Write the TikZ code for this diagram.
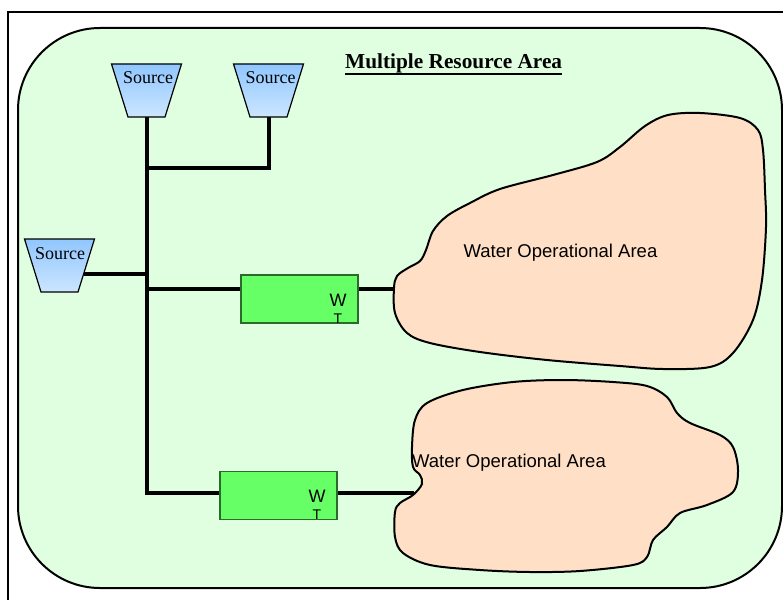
\documentclass[tikz,border=0pt]{standalone}
\usepackage{fontspec}
\setmainfont{Liberation Serif}
\newfontfamily\arialfont{Liberation Sans}
\usetikzlibrary{calc}

\definecolor{areagreen}{HTML}{E0FFE0}
\definecolor{blobfill}{HTML}{FFE0C6}
\definecolor{srctop}{HTML}{90C6FF}
\definecolor{srcbot}{HTML}{CCE6FF}
\definecolor{tankfill}{HTML}{66FF66}
\definecolor{tankedge}{HTML}{2A6A2A}

\pgfdeclarelayer{back}
\pgfdeclarelayer{mid}
\pgfsetlayers{back,mid,main}

\tikzset{
  source/.style={draw=black, line width=1.2, top color=srctop, bottom color=srcbot},
  srclabel/.style={anchor=base, inner sep=0, font=\fontsize{18}{18}\selectfont},
  tank/.style={draw=tankedge, line width=1.2, fill=tankfill, minimum width=117,
    minimum height=48, inner sep=0},
  tanklabel/.style={anchor=base, inner sep=0, font=\arialfont\fontsize{18}{18}\selectfont},
  tanksub/.style={anchor=base, inner sep=0, font=\arialfont\fontsize{14}{14}\selectfont},
  pipe/.style={line width=4, line cap=butt, line join=miter},
  areaname/.style={anchor=base, inner sep=0, font=\arialfont\fontsize{18.5}{18.5}\selectfont},
  blob/.style={draw=black, line width=2, fill=blobfill},
}

% source hopper: top 70 wide, bottom 37 wide, 53 high, centred on #1
\newcommand\drawsource[1]{%
  \path[source] ($(#1)+(-35,-26.5)$) -- ($(#1)+(35,-26.5)$)
    -- ($(#1)+(18.5,26.5)$) -- ($(#1)+(-18.5,26.5)$) -- cycle;}

\begin{document}
\begin{tikzpicture}[x=1pt,y=-1pt]
  \useasboundingbox (0,0) rectangle (783,599);
  \clip (0,0) rectangle (783,599);

  % source centres and outlets
  \coordinate (s1) at (146.5,90.5);
  \coordinate (s2) at (268.5,90.5);
  \coordinate (s3) at (59.5,265.5);
  \coordinate (s1out) at ($(s1)+(0,26.5)$);
  \coordinate (s2out) at ($(s2)+(0,26.5)$);
  \coordinate (s3out) at ($(s3)+(24.3,8.5)$);

  \drawsource{s1}
  \drawsource{s2}
  \drawsource{s3}
  \node[srclabel] (s1t) at (148,84) {Source};
  \node[srclabel] (s2t) at (270.5,84) {Source};
  \node[srclabel] (s3t) at (60,259) {Source};

  % storage tanks
  \node[tank] (b1) at (299.5,299) {};
  \node[tank] (b2) at (278.5,495.5) {};
  \node[tanklabel] (b1w) at (338,306) {W};
  \node[tanksub] (b1s) at (338,323) {T};
  \node[tanklabel] (b2w) at (317,502) {W};
  \node[tanksub] (b2s) at (317,519) {T};

  % title
  \node[anchor=base west, inner sep=0, font=\fontsize{21.3}{21.3}\selectfont\bfseries]
    (title) at (345,69) {Multiple Resource Area};

  % pipe junctions and hook-up points
  \coordinate (j2) at (146.5,168);
  \coordinate (j3) at (146.5,274);
  \coordinate (b1in) at ([yshift=10]b1.west);
  \coordinate (b1out) at ([yshift=10]b1.east);
  \coordinate (b2in) at ([yshift=2.5]b2.west);
  \coordinate (b2out) at ([yshift=2.5]b2.east);
  \coordinate (w1) at (395,289);
  \coordinate (w2) at (414,493);

  \begin{pgfonlayer}{back}
    % outer frame
    \draw[line width=1.8] (8,12) rectangle (820,640);
    % resource area
    \draw[line width=2, fill=areagreen, rounded corners=82] (18,28) rectangle (782,588);
    % water operational areas
    \draw[blob] plot[smooth cycle, tension=0.55] coordinates {
      (394,288) (397,276) (408,268) (420,261) (426,250) (433,231) (447,216)
      (470,203) (500,189) (553,175) (597,162) (620,147) (645,126) (668,115)
      (700,113) (740,118) (758,130) (763,150) (765,190) (766,227) (762,280)
      (753,320) (733,353) (710,367) (663,369) (620,366) (547,360) (480,352)
      (430,343) (407,333) (395,313)};
    \draw[blob] plot[smooth cycle, tension=0.55] coordinates {
      (413,495) (422,484) (420,475) (413,467) (412,447) (415,420) (427,403)
      (463,390) (513,382) (563,380) (613,382) (647,386) (667,397) (677,413)
      (690,423) (720,435) (733,447) (738,470) (733,492) (707,505) (680,513)
      (667,527) (653,540) (647,557) (633,565) (580,571) (530,572) (480,570)
      (430,565) (403,553) (395,537) (395,512) (400,503)};
  \end{pgfonlayer}

  \node[areaname] (a1) at (560.5,257) {Water Operational Area};
  \node[areaname] (a2) at (509,467) {Water Operational Area};

  % title underline
  \draw[line width=2.6] ([yshift=-5]title.base west) -- ([yshift=-5]title.base east);

  \begin{pgfonlayer}{mid}
    \draw[pipe] (s1out) |- (b2in);
    \draw[pipe] (s2out) |- (j2);
    \draw[pipe] (s3out) -- (j3);
    \draw[pipe] (s1out |- b1in) -- (b1in);
    \draw[pipe] (b1out) -- (w1);
    \draw[pipe] (b2out) -- (w2);
  \end{pgfonlayer}
\end{tikzpicture}
\end{document}
